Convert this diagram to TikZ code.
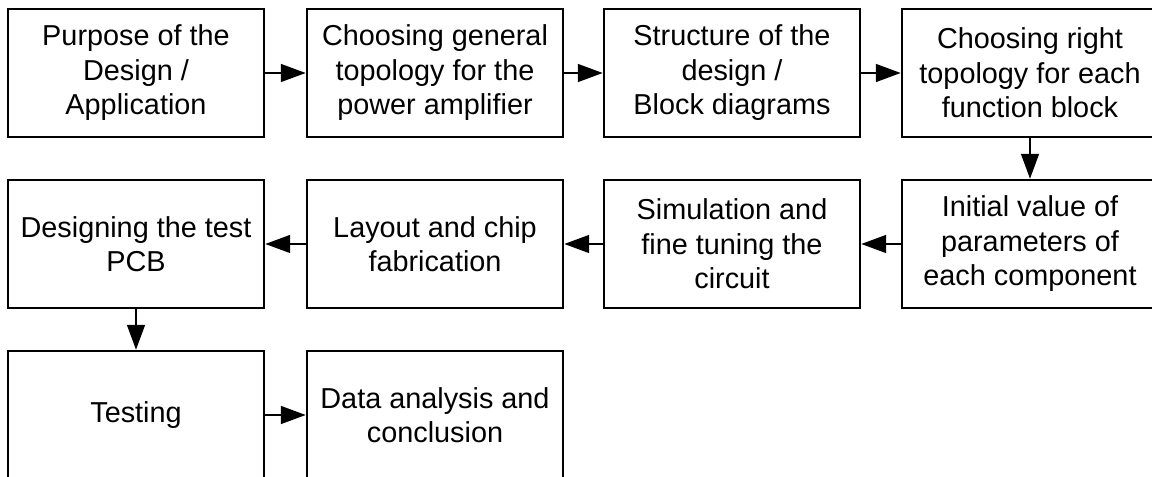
\documentclass[tikz,border=0pt]{standalone}
\usepackage{fontspec}
\setmainfont{Liberation Sans}
\usetikzlibrary{arrows.meta}

\begin{document}
\begin{tikzpicture}[x=0.025cm, y=-0.025cm,
  blk/.style={draw=black, line width=1.7pt, minimum width=6.4cm,
              minimum height=3.2cm, inner sep=2pt, align=center,
              font=\fontsize{20.5}{24.5}\selectfont},
  flow/.style={-{Triangle[length=0.62cm, width=0.44cm]}, line width=1.7pt}]
  % page, cut at the right and bottom as in the scan
  \clip (0,0) rectangle (1152,477);
  \fill[white] (0,0) rectangle (1152,477);
  % first row
  \node[blk] (s1) at (136,73)  {Purpose of the\\Design /\\Application};
  \node[blk] (s2) at (435,73)  {Choosing general\\topology for the\\power amplifier};
  \node[blk] (s3) at (732,73)  {Structure of the\\design /\\Block diagrams};
  \node[blk] (s4) at (1030,73) {Choosing right\\topology for each\\function block};
  % second row, running back
  \node[blk] (s5) at (1030,244) {Initial value of\\parameters of\\each component};
  \node[blk] (s6) at (732,244)  {Simulation and\\fine tuning the\\circuit};
  \node[blk] (s7) at (435,244)  {Layout and chip\\fabrication};
  \node[blk] (s8) at (136,244)  {Designing the test\\PCB};
  % last row
  \node[blk] (s9)  at (136,415) {Testing};
  \node[blk] (s10) at (435,415) {Data analysis and\\conclusion};
  \draw[flow] (s1) -- (s2); \draw[flow] (s2) -- (s3);
  \draw[flow] (s3) -- (s4); \draw[flow] (s4) -- (s5);
  \draw[flow] (s5) -- (s6); \draw[flow] (s6) -- (s7);
  \draw[flow] (s7) -- (s8); \draw[flow] (s8) -- (s9);
  \draw[flow] (s9) -- (s10);
\end{tikzpicture}
\end{document}
